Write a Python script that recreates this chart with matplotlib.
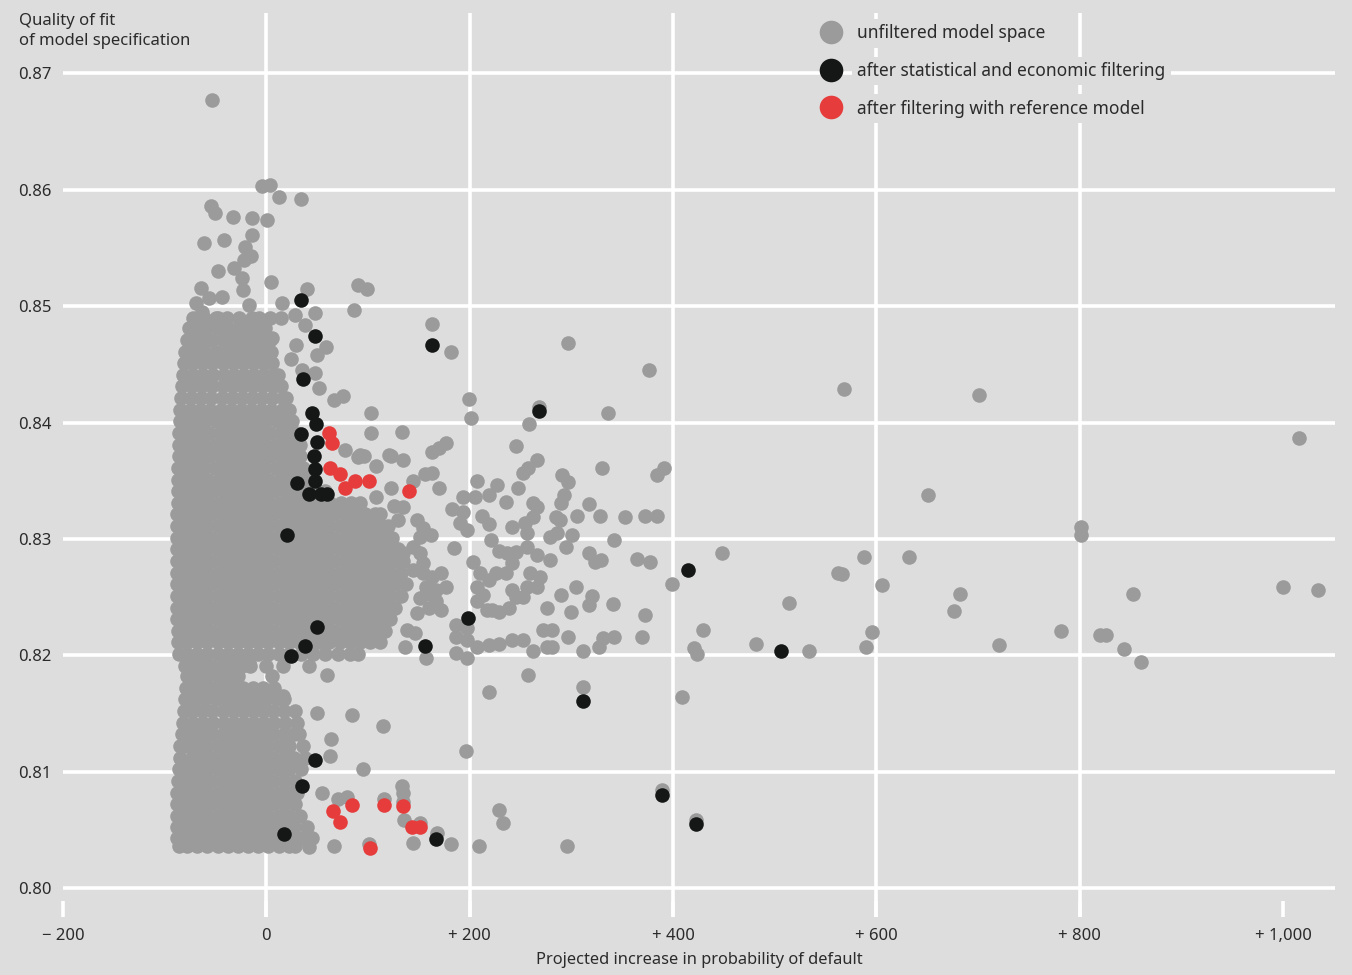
import matplotlib
matplotlib.use("Agg")
import matplotlib.pyplot as plt
from matplotlib.lines import Line2D

# dense core of the unfiltered model space, read row by row (y, x values)
core_rows = [
    (0.8490, [-72, -61, -50, -39, -27, -14, 4, 14]),
    (0.8481, [-76, -68, -58, -48, -38, -28, -18, -8, -1]),
    (0.8471, [-78, -73, -63, -53, -43, -33, -23, -13, -3, 4]),
    (0.8461, [-80, -70, -60, -50, -40, -30, -20, -10, 0, 5]),
    (0.8451, [-81, -73, -63, -53, -43, -33, -23, -13, -3, 6]),
    (0.8441, [-82, -72, -62, -52, -42, -32, -22, -12, -2, 8, 11]),
    (0.8431, [-83, -73, -63, -53, -43, -33, -23, -13, -3, 7, 14]),
    (0.8421, [-84, -74, -64, -54, -44, -34, -24, -14, -4, 6, 16, 19]),
    (0.8411, [-85, -75, -65, -55, -45, -35, -25, -15, -5, 5, 15, 22]),
    (0.8401, [-85, -80, -70, -60, -50, -40, -30, -20, -10, 0, 10, 20, 25]),
    (0.8391, [-86, -76, -66, -56, -46, -36, -26, -16, -6, 4, 14, 24, 29]),
    (0.8381, [-86, -81, -71, -61, -51, -41, -31, -21, -11, -1, 9, 19, 29, 33]),
    (0.8371, [-86, -76, -66, -56, -46, -36, -26, -16, -6, 4, 14, 24, 33]),
    (0.8361, [-87, -81, -71, -61, -51, -41, -31, -21, -11, -1, 9, 19, 29, 36]),
    (0.8351, [-87, -77, -67, -57, -47, -37, -27, -17, -7, 3, 13, 23, 33, 42]),
    (0.8341, [-87, -82, -72, -62, -52, -42, -32, -22, -12, -2, 8, 18, 28, 38, 48, 58]),
    (0.8331, [-87, -77, -67, -57, -47, -37, -27, -17, -7, 3, 13, 23, 33, 43, 53, 63, 73,
              83, 92]),
    (0.8321, [-88, -83, -73, -63, -53, -43, -33, -23, -13, -3, 7, 17, 27, 37, 47, 57, 67,
              77, 87, 97, 107, 112]),
    (0.8311, [-88, -78, -68, -58, -48, -38, -28, -18, -8, 2, 12, 22, 32, 42, 52, 62, 72,
              82, 92, 102, 112, 120]),
    (0.8301, [-88, -83, -73, -63, -53, -43, -33, -23, -13, -3, 7, 17, 27, 37, 47, 57, 67,
              77, 87, 97, 107, 117, 124]),
    (0.8291, [-88, -78, -68, -58, -48, -38, -28, -18, -8, 2, 12, 22, 32, 42, 52, 62, 72,
              82, 92, 102, 112, 122, 129]),
    (0.8281, [-88, -83, -73, -63, -53, -43, -33, -23, -13, -3, 7, 17, 27, 37, 47, 57, 67,
              77, 87, 97, 107, 117, 127, 134]),
    (0.8271, [-88, -78, -68, -58, -48, -38, -28, -18, -8, 2, 12, 22, 32, 42, 52, 62, 72,
              82, 92, 102, 112, 122, 132]),
    (0.8261, [-88, -83, -73, -63, -53, -43, -33, -23, -13, -3, 7, 17, 27, 37, 47, 57, 67,
              77, 87, 97, 107, 117, 127, 137]),
    (0.8251, [-88, -78, -68, -58, -48, -38, -28, -18, -8, 2, 12, 22, 32, 42, 52, 62, 72,
              82, 92, 102, 112, 122, 132]),
    (0.8241, [-88, -83, -73, -63, -53, -43, -33, -23, -13, -3, 7, 17, 27, 37, 47, 57, 67,
              77, 87, 97, 107, 117, 127]),
    (0.8231, [-88, -78, -68, -58, -48, -38, -28, -18, -8, 2, 12, 22, 32, 42, 52, 62, 72,
              82, 92, 102, 112, 122]),
    (0.8221, [-87, -83, -73, -63, -53, -43, -33, -23, -13, -3, 7, 17, 27, 37, 47, 57, 67,
              77, 87, 97, 107, 117]),
    (0.8211, [-87, -78, -68, -58, -48, -38, -28, -18, -8, 2, 12, 22, 32, 42, 52, 62, 72,
              82, 92, 102, 112]),
    (0.8201, [-86, -78, -68, -58, -48, -38, -28, -18, -8, 2, 12, 22, 34, 46, 58, 70, 82, 90]),
    (0.8191, [-80, -73, -63, -53, -43, -33, -24, -16, 0, 16]),
    (0.8182, [-78, -68, -58, -48, -38, -28, 6]),
    (0.8172, [-79, -73, -63, -53, -43, -33, -23, -13, -3, 8]),
    (0.8162, [-80, -70, -60, -50, -40, -30, -20, -10, 0, 10, 17]),
    (0.8152, [-81, -73, -63, -53, -43, -33, -23, -13, -3, 7, 17, 28]),
    (0.8142, [-82, -72, -62, -52, -42, -32, -22, -12, -2, 8, 18, 30]),
    (0.8132, [-83, -73, -63, -53, -43, -33, -23, -13, -3, 7, 17, 27, 32]),
    (0.8122, [-85, -78, -68, -58, -48, -38, -28, -18, -8, 2, 12, 22, 36]),
    (0.8112, [-85, -73, -63, -53, -43, -33, -23, -13, -3, 7, 17, 27, 38]),
    (0.8102, [-86, -78, -68, -58, -48, -38, -28, -18, -8, 2, 12, 22, 34]),
    (0.8092, [-87, -83, -73, -63, -53, -43, -33, -23, -13, -3, 7, 17, 28]),
    (0.8082, [-88, -78, -68, -58, -48, -38, -28, -18, -8, 2, 12, 22, 30]),
    (0.8072, [-88, -83, -73, -63, -53, -43, -33, -23, -13, -3, 7, 17, 28]),
    (0.8062, [-88, -78, -68, -58, -48, -38, -28, -18, -8, 2, 12, 22, 33]),
    (0.8052, [-88, -83, -73, -63, -53, -43, -33, -23, -13, -3, 7, 17, 27, 40]),
    (0.8043, [-88, -78, -68, -58, -48, -38, -28, -18, -8, 2, 12, 22, 33, 45]),
    (0.8036, [-86, -78, -68, -58, -48, -38, -28, -18, -8, 2, 12, 22, 28]),
]

# scattered unfiltered specifications (x, y)
grey_points = [
    (-53, 0.8677), (-4, 0.8603), (4, 0.8604), (12, 0.8594), (34, 0.8592),
    (-54, 0.8586), (-51, 0.8580), (-33, 0.8577), (-14, 0.8576), (1, 0.8574),
    (-61, 0.8554), (-42, 0.8557), (-14, 0.8561), (-21, 0.8551), (-15, 0.8543),
    (-22, 0.8540), (-32, 0.8533), (-48, 0.8530), (-24, 0.8524), (5, 0.8521),
    (-64, 0.8516), (-44, 0.8508), (-23, 0.8514), (-69, 0.8503), (-56, 0.8507),
    (-63, 0.8495), (-48, 0.8490), (-17, 0.8501), (-7, 0.8490), (6, 0.8473),
    (15, 0.8503), (40, 0.8515), (28, 0.8492), (48, 0.8494), (38, 0.8484),
    (29, 0.8467), (59, 0.8465), (50, 0.8458), (24, 0.8455), (35, 0.8445),
    (48, 0.8443), (52, 0.8430), (67, 0.8419), (75, 0.8423), (90, 0.8518),
    (99, 0.8515), (86, 0.8497), (163, 0.8485), (182, 0.8461), (103, 0.8408),
    (103, 0.8391), (133, 0.8392), (163, 0.8375), (121, 0.8372), (92, 0.8372),
    (199, 0.8420), (201, 0.8404), (258, 0.8399), (268, 0.8413), (246, 0.8380),
    (177, 0.8382), (170, 0.8378), (134, 0.8368), (123, 0.8371), (108, 0.8363),
    (96, 0.8371), (90, 0.8370), (77, 0.8376), (163, 0.8357), (156, 0.8356),
    (170, 0.8344), (144, 0.8350), (123, 0.8344), (108, 0.8336), (126, 0.8328),
    (134, 0.8327), (129, 0.8316), (118, 0.8310), (148, 0.8316), (154, 0.8309),
    (162, 0.8303), (151, 0.8302), (185, 0.8292), (183, 0.8326), (193, 0.8323),
    (190, 0.8314), (197, 0.8308), (207, 0.8350), (193, 0.8336), (205, 0.8336),
    (219, 0.8338), (227, 0.8346), (236, 0.8332), (212, 0.8320), (219, 0.8313),
    (247, 0.8344), (252, 0.8357), (257, 0.8361), (266, 0.8368), (262, 0.8331),
    (266, 0.8327), (242, 0.8310), (254, 0.8314), (256, 0.8305), (262, 0.8319),
    (279, 0.8302), (285, 0.8319), (221, 0.8299), (229, 0.8290), (237, 0.8288),
    (246, 0.8289), (256, 0.8293), (266, 0.8286), (279, 0.8282), (203, 0.8280),
    (210, 0.8271), (219, 0.8265), (226, 0.8271), (236, 0.8271), (242, 0.8279),
    (259, 0.8271), (269, 0.8267), (266, 0.8259), (256, 0.8259), (207, 0.8259),
    (213, 0.8252), (207, 0.8247), (217, 0.8239), (222, 0.8239), (229, 0.8237),
    (239, 0.8241), (246, 0.8250), (242, 0.8256), (252, 0.8250), (276, 0.8241),
    (272, 0.8222), (281, 0.8222), (197, 0.8213), (207, 0.8207), (219, 0.8209),
    (229, 0.8210), (242, 0.8213), (252, 0.8213), (262, 0.8204), (276, 0.8207),
    (187, 0.8226), (197, 0.8223), (187, 0.8216), (187, 0.8202), (197, 0.8198),
    (157, 0.8198), (257, 0.8183), (219, 0.8168), (60, 0.8183), (138, 0.8222),
    (146, 0.8219), (136, 0.8207), (148, 0.8236), (151, 0.8249), (157, 0.8253),
    (167, 0.8247), (172, 0.8239), (160, 0.8241), (144, 0.8273), (154, 0.8271),
    (163, 0.8267), (172, 0.8271), (177, 0.8259), (167, 0.8256), (157, 0.8259),
    (134, 0.8288), (144, 0.8293), (151, 0.8288), (154, 0.8279), (336, 0.8408),
    (330, 0.8361), (384, 0.8355), (391, 0.8361), (291, 0.8355), (297, 0.8349),
    (293, 0.8338), (290, 0.8331), (317, 0.8330), (289, 0.8316), (306, 0.8320),
    (328, 0.8320), (353, 0.8319), (372, 0.8320), (384, 0.8320), (286, 0.8305),
    (301, 0.8303), (295, 0.8293), (342, 0.8299), (317, 0.8288), (323, 0.8280),
    (329, 0.8282), (365, 0.8283), (377, 0.8280), (399, 0.8261), (448, 0.8288),
    (305, 0.8259), (290, 0.8252), (320, 0.8251), (317, 0.8243), (341, 0.8244),
    (300, 0.8237), (372, 0.8235), (514, 0.8245), (429, 0.8222), (297, 0.8216),
    (331, 0.8215), (342, 0.8216), (369, 0.8216), (281, 0.8207), (311, 0.8204),
    (327, 0.8207), (421, 0.8206), (424, 0.8201), (482, 0.8210), (311, 0.8173),
    (409, 0.8164), (297, 0.8468), (376, 0.8445), (568, 0.8429), (701, 0.8424),
    (1016, 0.8387), (651, 0.8338), (801, 0.8310), (801, 0.8303), (588, 0.8284),
    (632, 0.8284), (562, 0.8271), (566, 0.8270), (605, 0.8260), (682, 0.8253),
    (676, 0.8238), (852, 0.8253), (1000, 0.8259), (1034, 0.8256), (596, 0.8220),
    (782, 0.8221), (820, 0.8217), (826, 0.8217), (843, 0.8205), (860, 0.8194),
    (721, 0.8209), (590, 0.8207), (534, 0.8204), (389, 0.8084), (423, 0.8058),
    (196, 0.8118), (229, 0.8067), (233, 0.8056), (296, 0.8036), (209, 0.8036),
    (182, 0.8038), (168, 0.8047), (144, 0.8039), (135, 0.8058), (151, 0.8056),
    (133, 0.8088), (134, 0.8082), (134, 0.8074), (116, 0.8076), (79, 0.8078),
    (70, 0.8076), (101, 0.8038), (67, 0.8036), (42, 0.8035), (55, 0.8082),
    (50, 0.8150), (84, 0.8149), (115, 0.8139), (64, 0.8128), (63, 0.8113),
    (95, 0.8102), (-17, 0.8193), (42, 0.8191), (16, 0.8165),
]

# after statistical and economic filtering
black_points = [
    (34, 0.8505), (48, 0.8474), (36, 0.8437), (163, 0.8467), (45, 0.8408),
    (49, 0.8399), (34, 0.8390), (50, 0.8383), (47, 0.8371), (48, 0.8360),
    (48, 0.8350), (30, 0.8348), (42, 0.8339), (54, 0.8339), (60, 0.8339),
    (20, 0.8303), (50, 0.8224), (38, 0.8208), (24, 0.8199), (156, 0.8208),
    (198, 0.8232), (268, 0.8410), (48, 0.8110), (35, 0.8088), (17, 0.8046),
    (167, 0.8042), (311, 0.8161), (415, 0.8273), (506, 0.8204), (389, 0.8080),
    (423, 0.8055),
]

# after filtering with reference model
red_points = [
    (62, 0.8391), (65, 0.8382), (63, 0.8361), (72, 0.8356), (77, 0.8344),
    (87, 0.8350), (101, 0.8350), (140, 0.8341), (66, 0.8066), (72, 0.8057),
    (84, 0.8071), (116, 0.8071), (134, 0.8070), (143, 0.8052), (151, 0.8052),
    (102, 0.8034),
]

labels = ["unfiltered model space", "after statistical and economic filtering",
          "after filtering with reference model"]
x_ticks = [-200, 0, 200, 400, 600, 800, 1000]
x_ticklabels = ["\u2212 200", "0", "+ 200", "+ 400", "+ 600", "+ 800", "+ 1,000"]
y_ticks = [0.80, 0.81, 0.82, 0.83, 0.84, 0.85, 0.86, 0.87]

BG = "#dcdddc"
GREY = "#9b9b9b"
BLACK = "#151717"
RED = "#e63c3c"
TXT = "#2b2b2b"

plt.rcParams["font.family"] = ["Noto Sans", "DejaVu Sans"]

grey_x = [x for y, xs in core_rows for x in xs] + [p[0] for p in grey_points]
grey_y = [y for y, xs in core_rows for x in xs] + [p[1] for p in grey_points]

fig = plt.figure(figsize=(13.52, 9.75), dpi=100, facecolor=BG)
ax = fig.add_axes([63 / 1352, 1 - 917 / 975, (1335 - 63) / 1352, (917 - 13) / 975])
ax.set_facecolor(BG)
ax.set_xlim(-200, 1051)
ax.set_ylim(0.7975, 0.8752)
for s in ax.spines.values():
    s.set_visible(False)

ax.set_yticks(y_ticks)
ax.set_yticklabels(["%.2f" % v for v in y_ticks])
ax.set_xticks(x_ticks)
ax.set_xticklabels(x_ticklabels)
ax.yaxis.grid(True, color="white", lw=2.6)
for xv in x_ticks[1:-1]:
    ax.axvline(xv, color="white", lw=2.6, zorder=0.5)
ax.set_axisbelow(True)
ax.tick_params(axis="y", length=0, pad=8, labelsize=12, labelcolor=TXT)
ax.tick_params(axis="x", direction="in", length=11.5, width=2.6, color="white",
               pad=8, labelsize=12, labelcolor=TXT)

ax.scatter(grey_x, grey_y, s=110, color=GREY, linewidths=0, zorder=2)
ax.scatter([p[0] for p in black_points], [p[1] for p in black_points],
           s=110, color=BLACK, linewidths=0, zorder=3)
ax.scatter([p[0] for p in red_points], [p[1] for p in red_points],
           s=110, color=RED, linewidths=0, zorder=4)

handles = [Line2D([], [], ls="", marker="o", markersize=17, color=c, markeredgewidth=0)
           for c in (GREY, BLACK, RED)]
leg = fig.legend(handles, labels, loc="upper left", bbox_to_anchor=(818 / 1352, 1 - 20 / 975),
                 frameon=False, fontsize=12.5, handlelength=1.0, handletextpad=1.0,
                 labelspacing=1.13, borderpad=0.25, borderaxespad=0)
for t in leg.get_texts():
    t.set_color(TXT)
    t.set_bbox(dict(boxstyle="square,pad=0.3", facecolor=BG, edgecolor="none"))

fig.text(19 / 1352, 1 - 13 / 975, "Quality of fit\nof model specification",
         ha="left", va="top", fontsize=12, color=TXT, linespacing=1.3)
fig.text(699 / 1352, 1 - 960 / 975, "Projected increase in probability of default",
         ha="center", va="center", fontsize=11.8, color=TXT)

fig.savefig("out.png", dpi=100, facecolor=BG)
